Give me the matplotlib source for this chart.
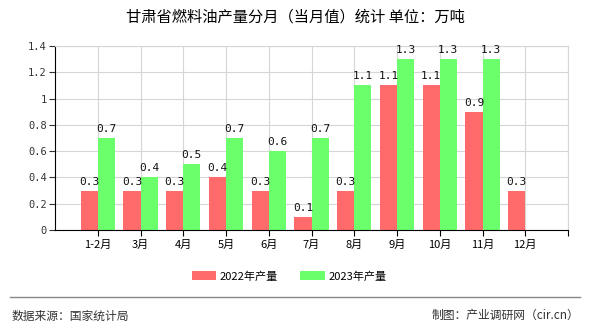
import matplotlib.pyplot as plt
import numpy as np

months = ["1-2月", "3月", "4月", "5月", "6月", "7月", "8月", "9月", "10月", "11月", "12月"]
output_2022 = [0.3, 0.3, 0.3, 0.4, 0.3, 0.1, 0.3, 1.1, 1.1, 0.9, 0.3]
output_2023 = [0.7, 0.4, 0.5, 0.7, 0.6, 0.7, 1.1, 1.3, 1.3, 1.3, None]
yticks = [0, 0.2, 0.4, 0.6, 0.8, 1, 1.2, 1.4]

plt.rcParams['font.family'] = ['Noto Sans CJK SC', 'DejaVu Sans']

red = "#ff6b6b"
green = "#6bff6b"
mono = "DejaVu Sans Mono"

fig = plt.figure(figsize=(5.9, 3.3), dpi=100)
ax = fig.add_axes([55 / 590, 100 / 330, 513 / 590, 184 / 330])

x = np.arange(1, len(months) + 1)
w = 0.4
for i, (a, b) in enumerate(zip(output_2022, output_2023)):
    ax.bar(x[i] - w / 2, a, w, color=red, label="2022年产量" if i == 0 else None, zorder=2)
    ax.text(x[i] - w / 2, a + 0.03, f"{a:g}", ha="center", va="bottom",
            fontsize=8, family=mono, color="#111111", zorder=3)
    if b is not None:
        ax.bar(x[i] + w / 2, b, w, color=green, label="2023年产量" if i == 0 else None, zorder=2)
        ax.text(x[i] + w / 2, b + 0.03, f"{b:g}", ha="center", va="bottom",
                fontsize=8, family=mono, color="#111111", zorder=3)

ax.set_xlim(0, 12)
ax.set_ylim(0, 1.4)
ax.set_yticks(yticks)
ax.set_yticklabels([f"{t:g}" for t in yticks], family=mono, fontsize=7.5)
ax.set_xticks(list(x) + [12])
ax.set_xticklabels(months + [""], fontsize=8)
ax.tick_params(axis="y", length=4, pad=2, colors="#333333")
ax.tick_params(axis="x", length=4, pad=3)

ax.grid(True, color="#d6d6d6", linewidth=0.8, zorder=0)
for side in ["top", "right"]:
    ax.spines[side].set_color("#d6d6d6")
for side in ["left", "bottom"]:
    ax.spines[side].set_color("#000000")

fig.text(0.5, 0.948, "甘肃省燃料油产量分月（当月值）统计 单位：万吨",
         ha="center", va="center", fontsize=11)

handles, labels = ax.get_legend_handles_labels()
fig.legend(handles, labels, loc="center", bbox_to_anchor=(0.49, 0.163), ncol=2,
           frameon=False, fontsize=8, handlelength=2.2, handleheight=0.9,
           columnspacing=2.0, handletextpad=0.3)

fig.add_artist(plt.Line2D([0.017, 0.983], [0.1, 0.1], color="#888888", linewidth=1))
fig.text(0.02, 0.043, "数据来源：国家统计局", ha="left", va="center", fontsize=8.5, color="#333333")
fig.text(0.982, 0.043, "制图：产业调研网（cir.cn）", ha="right", va="center", fontsize=8.5, color="#333333")

fig.savefig("out.png", dpi=100)
